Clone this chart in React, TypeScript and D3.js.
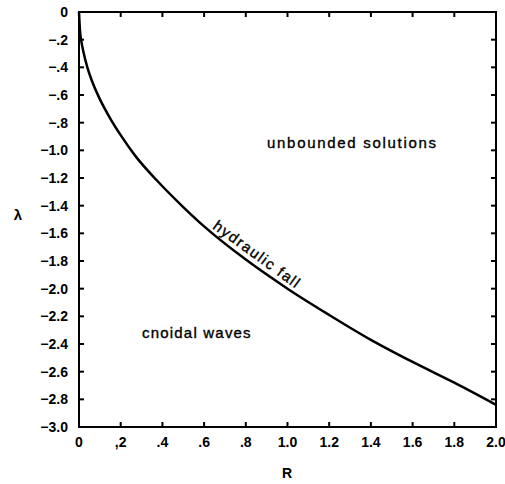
import React from 'react';
import * as d3 from 'd3';

// values
const rValues = [0, 0.005, 0.01, 0.02, 0.04, 0.06, 0.1, 0.15, 0.2, 0.27, 0.375, 0.5, 0.6, 0.8, 1.0, 1.2, 1.4, 1.6, 1.8, 2.0];
const lambdaValues = [0, -0.14, -0.2, -0.28, -0.4, -0.49, -0.63, -0.77, -0.89, -1.04, -1.22, -1.41, -1.55, -1.79, -2.0, -2.19, -2.37, -2.53, -2.68, -2.84];

const xTicks = [0, 0.2, 0.4, 0.6, 0.8, 1.0, 1.2, 1.4, 1.6, 1.8, 2.0];
const xTickLabels = ['0', ',2', '.4', '.6', '.8', '1.0', '1.2', '1.4', '1.6', '1.8', '2.0'];
const yTicks = [0, -0.2, -0.4, -0.6, -0.8, -1.0, -1.2, -1.4, -1.6, -1.8, -2.0, -2.2, -2.4, -2.6, -2.8, -3.0];
const yTickLabels = ['0', '−.2', '−.4', '−.6', '−.8', '−1.0', '−1.2', '−1.4', '−1.6', '−1.8', '−2.0', '−2.2', '−2.4', '−2.6', '−2.8', '−3.0'];

const width = 505;
const height = 484;
const left = 79;
const right = 496;
const top = 12;
const bottom = 427;

const font = 'Liberation Sans, Arial, sans-serif';

export default function App() {
    const x = d3.scaleLinear().domain([0, 2]).range([left, right]);
    const y = d3.scaleLinear().domain([-3, 0]).range([bottom, top]);

    const points: [number, number][] = rValues.map((r, i) => [r, lambdaValues[i]]);
    const line = d3.line<[number, number]>()
        .x(d => x(d[0]))
        .y(d => y(d[1]))
        .curve(d3.curveMonotoneX);

    const tickLen = 5;
    const labelStyle = { stroke: '#000', strokeWidth: 0.35 };

    return (
        <svg width={width} height={height} style={{ position: 'absolute', left: 0, top: 0, background: '#fff' }}>
            {/* frame */}
            <rect x={left} y={top} width={right - left} height={bottom - top} fill="none" stroke="#000" strokeWidth={2} />

            {/* x ticks, bottom and top */}
            {xTicks.map((t, i) => (
                <g key={'x' + i}>
                    <line x1={x(t)} x2={x(t)} y1={bottom} y2={bottom - tickLen} stroke="#000" strokeWidth={2} />
                    <line x1={x(t)} x2={x(t)} y1={top} y2={top + tickLen} stroke="#000" strokeWidth={2} />
                    <text x={x(t)} y={447} textAnchor="middle" fontFamily={font} fontWeight="bold" fontSize={14}>
                        {xTickLabels[i]}
                    </text>
                </g>
            ))}

            {/* y ticks, left and right */}
            {yTicks.map((t, i) => (
                <g key={'y' + i}>
                    <line x1={left} x2={left + tickLen} y1={y(t)} y2={y(t)} stroke="#000" strokeWidth={2} />
                    <line x1={right} x2={right - tickLen} y1={y(t)} y2={y(t)} stroke="#000" strokeWidth={2} />
                    <text x={68} y={y(t) + 5} textAnchor="end" fontFamily={font} fontWeight="bold" fontSize={14}>
                        {yTickLabels[i]}
                    </text>
                </g>
            ))}

            {/* axis titles */}
            <text x={18} y={220} textAnchor="middle" fontFamily={font} fontWeight="bold" fontSize={15}>λ</text>
            <text x={287} y={478} textAnchor="middle" fontFamily={font} fontWeight="bold" fontSize={14}>R</text>

            {/* curve */}
            <path d={line(points) ?? ''} fill="none" stroke="#000" strokeWidth={2.5} />

            {/* region labels */}
            <text x={267} y={148} fontFamily={font} fontSize={15} letterSpacing={1.7} style={labelStyle}>unbounded solutions</text>
            <text x={142} y={338} fontFamily={font} fontSize={15} letterSpacing={1.2} style={labelStyle}>cnoidal waves</text>
            <text transform="translate(212,228) rotate(36)" fontFamily={font} fontSize={15} letterSpacing={1.5} style={labelStyle}>hydraulic fall</text>
        </svg>
    );
}
